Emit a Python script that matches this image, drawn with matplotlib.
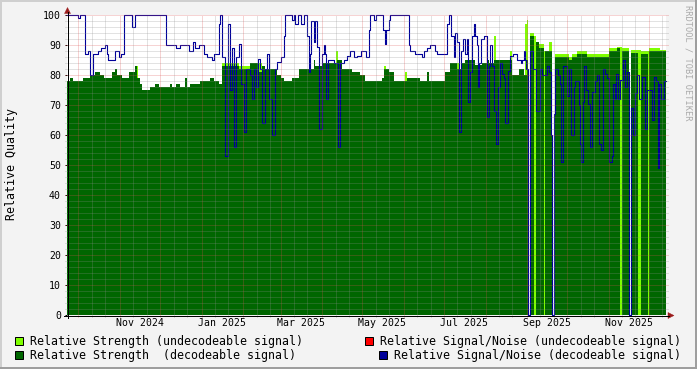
import matplotlib
matplotlib.use('Agg')
import matplotlib.pyplot as plt
import matplotlib.dates as mdates
from matplotlib.patches import Rectangle, Polygon
from matplotlib.lines import Line2D
from matplotlib.ticker import MultipleLocator
from datetime import datetime, timedelta
import numpy as np

plt.rcParams['font.family'] = ['DejaVu Sans Mono']

# ---------------- data (day offsets from start, step values) ----------------
start = datetime(2024, 9, 22, 10)
span_days = 447.4

strength_dec_day = [0, 2.2, 4.5, 11.9, 17.2, 20.9, 24.6, 27.6, 33.6, 35.8,
                    37.3, 41.1, 46.3, 50.8, 52.3, 54.5, 56.0, 62.0, 65.7, 68.7,
                    76.9, 78.4, 81.4, 84.4, 88.5, 89.6, 91.9, 99.3, 106.8, 109.8,
                    113.5, 115.8, 128.5, 136.7, 143.4, 145.6, 147.9, 156.8, 159.8, 162.0,
                    168.0, 173.3, 184.5, 185.2, 190.4, 201.6, 205.4, 212.8, 218.8, 222.6,
                    235.2, 236.7, 240.5, 244.2, 253.9, 263.6, 268.8, 270.3, 282.3, 286.0,
                    291.3, 295.0, 297.2, 304.7, 309.9, 313.7, 315.2, 318.9, 332.3, 337.5,
                    341.3, 343.5, 344.3, 345.8, 348.8, 350.3, 352.5, 356.2, 357.0, 362.2,
                    364.5, 374.9, 377.1, 380.9, 388.3, 404.8, 410.7, 413.0, 414.5, 419.7,
                    421.2, 426.5, 428.7, 433.9, 435.0]
strength_dec_val = [78, 79, 78, 79, 80, 81, 80, 79, 81, 82,
                    80, 79, 81, 83, 79, 77, 75, 76, 77, 76,
                    77, 76, 77, 76, 79, 76, 77, 78, 79, 78,
                    77, 83, 82, 84, 81, 83, 82, 80, 79, 78,
                    79, 82, 85, 83, 84, 85, 82, 81, 80, 78,
                    79, 82, 81, 78, 79, 78, 81, 78, 81, 84,
                    82, 84, 85, 83.5, 84, 85, 84, 85, 80, 82,
                    80, 85, 0, 93, 0, 91, 89, 0, 88, 0,
                    86, 85, 86, 87, 86, 88, 89, 0, 88, 0,
                    87.5, 0, 87, 0, 88]

strength_undec_day = [0, 51.1, 53.0, 115.8, 128.5, 136.7, 145.6, 200.9, 202.4, 236.7,
                      238.2, 252.4, 253.9, 291.3, 292.8, 318.9, 320.4, 330.8, 332.3, 342.4,
                      343.5, 344.3, 345.8, 348.8, 350.3, 352.5, 356.2, 357.0, 359.9, 362.2,
                      364.5, 374.9, 377.1, 380.9, 388.3, 404.8, 410.7, 414.5, 419.7, 421.2,
                      428.7, 434.6, 442.9]
strength_undec_val = [0, 83, 0, 84, 83, 84, 0, 88, 0, 83,
                      0, 81, 0, 84, 0, 93, 0, 88, 0, 97,
                      98.5, 0, 94, 93, 0, 90.5, 88, 0, 91, 0,
                      87, 86, 87, 88, 87, 89, 89.5, 89, 0, 88.5,
                      88, 89, 88.5]

snr_dec_day = [0, 8.2, 9.7, 13.7, 15.7, 17.4, 19.2, 23.2, 25.6, 28.2,
               29.6, 30.6, 35.6, 38.6, 40.1, 42.6, 48.5, 50.6, 74.2, 81.4,
               84.4, 91.1, 94.1, 95.6, 98.6, 102.3, 104.6, 108.3, 109.8, 113.5,
               114.6, 116.1, 118.0, 120.2, 121.7, 122.9, 124.7, 126.2, 128.5, 129.9,
               132.2, 133.7, 136.7, 138.2, 139.7, 141.1, 142.6, 144.1, 145.6, 147.9,
               149.4, 150.9, 153.1, 155.3, 156.8, 159.8, 162.0, 162.8, 168.0, 169.5,
               170.6, 172.5, 174.8, 177.0, 179.2, 180.7, 181.5, 182.2, 184.5, 185.2,
               186.7, 188.2, 190.4, 191.9, 192.7, 193.4, 194.9, 199.4, 202.4, 203.9,
               206.9, 209.1, 211.4, 214.3, 216.6, 219.6, 223.3, 225.5, 226.3, 229.3,
               230.8, 236.0, 237.5, 238.2, 240.5, 241.2, 255.4, 256.2, 259.9, 265.1,
               266.6, 268.8, 271.1, 274.8, 276.3, 283.8, 285.3, 286.8, 289.0, 289.8,
               291.3, 292.8, 294.2, 295.7, 297.2, 298.7, 299.5, 301.0, 302.5, 304.0,
               304.7, 306.2, 307.0, 308.1, 309.2, 311.4, 313.7, 315.2, 315.9, 317.8,
               318.9, 320.2, 321.9, 323.4, 324.9, 326.4, 327.5, 329.3, 330.8, 333.1,
               336.1, 339.0, 339.8, 341.3, 342.0, 343.2, 344.3, 345.8, 348.0, 350.6,
               353.2, 354.7, 358.5, 359.9, 361.4, 362.5, 363.6, 364.5, 366.7, 368.2,
               369.3, 370.8, 373.8, 374.9, 376.4, 378.6, 379.4, 382.4, 383.1, 384.2,
               385.4, 386.5, 387.6, 389.1, 390.6, 392.5, 394.3, 395.8, 397.3, 398.8,
               400.7, 401.8, 403.3, 404.8, 406.7, 408.1, 409.3, 410.4, 411.5, 413.0,
               415.2, 416.7, 418.2, 419.7, 421.2, 422.7, 424.2, 425.7, 427.2, 429.5,
               431.7, 433.2, 436.9, 438.8, 439.9, 441.1, 442.3, 443.8, 446.0]
snr_dec_val = [100, 99, 100, 87, 88, 80, 87, 88, 89, 90,
               87, 85, 88, 86, 87, 100, 96, 100, 90, 89,
               90, 88, 91, 89, 90, 87, 86, 85, 87, 97,
               100, 86, 53, 97, 75, 89, 56, 86, 90.5, 77,
               61, 82, 80, 72, 82, 76, 85.5, 82, 64, 82,
               87, 72, 60, 82, 84.5, 86, 93, 100, 98.5, 100,
               97, 100, 97, 100, 93, 81, 87, 98, 91, 98,
               89.5, 62, 87, 90, 87, 72, 85, 84, 56, 84,
               85, 86.5, 88, 86, 86.5, 88, 86, 95, 100, 98.5,
               100, 95, 90.5, 95, 98.5, 100, 90, 88, 87, 86,
               88, 89, 90, 88, 87, 97, 100, 93, 86, 94,
               91, 61, 88, 92, 87, 92, 71, 81, 93, 97,
               93, 90, 76, 84, 92, 93, 66, 83, 90, 83,
               68, 57, 76, 84, 80.5, 79, 64, 81.5, 86.5, 87,
               85, 84, 85, 88, 85, 82, 0, 88, 82, 68,
               82, 80, 83, 81, 60, 0, 67, 82, 80, 77,
               51, 83, 73, 82, 60, 76, 78, 70, 57, 51,
               71, 83, 75, 70.5, 56, 74.5, 78, 80, 57, 55,
               82, 80.5, 79, 51, 53, 77, 72, 80.5, 72, 78.5,
               85, 76, 81, 0, 69, 60, 74, 80, 72, 79.5,
               62, 75, 65, 79.5, 78, 49, 77, 72, 78]

snr_undec_day = []
snr_undec_val = []

legend_labels = ["Relative Strength (undecodeable signal)",
                 "Relative Signal/Noise (undecodeable signal)",
                 "Relative Strength  (decodeable signal)",
                 "Relative Signal/Noise (decodeable signal)"]

assert len(strength_dec_day) == len(strength_dec_val)
assert len(strength_undec_day) == len(strength_undec_val)
assert len(snr_dec_day) == len(snr_dec_val)

# ---------------- styles ----------------
BG = '#F3F3F3'
C_LIGHT = '#7FFF00'
C_DARK = '#006600'
C_RED = '#FF0000'
C_BLUE = '#000099'
C_GRID = '#8F8F8F'
C_MGRID = '#DE5050'
C_ARROW = '#9B1C1C'
PX = 0.72  # one pixel in points at 100 dpi

W, H = 697, 369
fig = plt.figure(figsize=(W / 100, H / 100), dpi=100, facecolor=BG)


def fp(x, y):
    return (x / W, 1 - y / H)


ax = fig.add_axes([67 / W, 1 - 315 / H, 599 / W, 300 / H])
ax.set_facecolor('white')
x0 = mdates.date2num(start)
x1 = x0 + span_days
end = start + timedelta(days=span_days)
ax.set_xlim(x0, x1)
ax.set_ylim(0, 100)
for s in ax.spines.values():
    s.set_visible(False)


def steps(days, vals):
    xs = np.append(x0 + np.asarray(days, float), x1)
    ys = np.append(np.asarray(vals, float), vals[-1])
    return xs, ys


xs, ys = steps(strength_undec_day, strength_undec_val)
ax.fill_between(xs, 0, ys, step='post', color=C_LIGHT, linewidth=0, zorder=1, antialiased=False)
xs, ys = steps(strength_dec_day, strength_dec_val)
ax.fill_between(xs, 0, ys, step='post', color=C_DARK, linewidth=0, zorder=1.1, antialiased=False)
xs, ys = steps(snr_dec_day, snr_dec_val)
ax.plot(xs, ys, drawstyle='steps-post', color=C_BLUE, lw=0.8, zorder=2, clip_on=False)

# ---------------- grid (drawn on top, like rrdtool) ----------------
ext_x = 2 / 599
ext_y = 2 / 300
ytr = ax.get_yaxis_transform()
xtr = ax.get_xaxis_transform()
y_minor = [v for v in range(2, 101, 2) if v % 10 != 0]
y_major = list(range(10, 101, 10))
ax.hlines(y_minor, -ext_x, 1 + ext_x, transform=ytr, colors=C_GRID, alpha=0.5,
          linewidth=PX, linestyles=(0, (1, 1)), zorder=5, clip_on=False)
ax.hlines(y_major, -ext_x, 1 + ext_x, transform=ytr, colors=C_MGRID, alpha=0.5,
          linewidth=PX, linestyles=(0, (1, 1)), zorder=5, clip_on=False)

x_major = [v for v in mdates.MonthLocator().tick_values(start, end) if x0 < v < x1]
x_minor = [v for v in mdates.DayLocator(bymonthday=[11, 21]).tick_values(start, end) if x0 < v < x1]
ax.vlines(x_minor, -ext_y, 1, transform=xtr, colors=C_GRID, alpha=0.5,
          linewidth=PX, linestyles=(0, (1, 1)), zorder=5, clip_on=False)
ax.vlines(x_major, -ext_y, 1, transform=xtr, colors=C_MGRID, alpha=0.5,
          linewidth=PX, linestyles=(0, (1, 1)), zorder=5, clip_on=False)

# ---------------- ticks / labels ----------------
ax.yaxis.set_major_locator(MultipleLocator(10))
ax.tick_params(axis='y', which='major', length=2 * PX, width=PX, color='black',
               pad=4 * PX, labelsize=7.1)
ax.xaxis.set_major_locator(mdates.MonthLocator(bymonth=(1, 3, 5, 7, 9, 11), bymonthday=16))
ax.xaxis.set_major_formatter(mdates.DateFormatter('%b %Y'))
ax.tick_params(axis='x', which='major', length=0, pad=2.5, labelsize=7.1)

# axis lines and arrows
fig.add_artist(Line2D([67.5 / W, 67.5 / W], [1 - 318 / H, 1 - 12 / H], color='black', lw=PX))
fig.add_artist(Line2D([64 / W, 669 / W], [1 - 315.5 / H, 1 - 315.5 / H], color='black', lw=PX))
fig.add_artist(Polygon([fp(64.5, 13.5), fp(70.5, 13.5), fp(67.5, 7.5)], closed=True,
                       transform=fig.transFigure, fc=C_ARROW, ec=C_ARROW, lw=0.3))
fig.add_artist(Polygon([fp(668, 312.5), fp(668, 318.5), fp(674, 315.5)], closed=True,
                       transform=fig.transFigure, fc=C_ARROW, ec=C_ARROW, lw=0.3))

fig.text(*fp(12, 164), 'Relative Quality', rotation=90, ha='center', va='center', fontsize=8.4)
fig.text(*fp(688, 5), 'RRDTOOL / TOBI OETIKER', rotation=270, ha='center', va='top',
         fontsize=6.2, color='#AAAAAA')

# ---------------- legend ----------------
legend_items = [(15, 341, C_LIGHT, legend_labels[0]),
                (365, 341, C_RED, legend_labels[1]),
                (15, 355, C_DARK, legend_labels[2]),
                (379, 355, C_BLUE, legend_labels[3])]
for lx, ly, col, lab in legend_items:
    fig.add_artist(Rectangle(fp(lx, ly + 4), 8 / W, 8 / H, transform=fig.transFigure,
                             fc=col, ec='black', lw=PX))
    fig.text(*fp(lx + 15, ly), lab, ha='left', va='center', fontsize=8.35)

# ---------------- frame shading ----------------
fig.add_artist(Rectangle((0, 1 - 2 / H), 1, 2 / H, transform=fig.transFigure, fc='#CFCFCF', ec='none'))
fig.add_artist(Rectangle((0, 0), 2 / W, 1, transform=fig.transFigure, fc='#CFCFCF', ec='none'))
fig.add_artist(Rectangle((1 - 2 / W, 0), 2 / W, 1, transform=fig.transFigure, fc='#9E9E9E', ec='none'))
fig.add_artist(Rectangle((0, 0), 1, 2 / H, transform=fig.transFigure, fc='#9E9E9E', ec='none'))

fig.savefig('out.png', dpi=100, facecolor=BG)
